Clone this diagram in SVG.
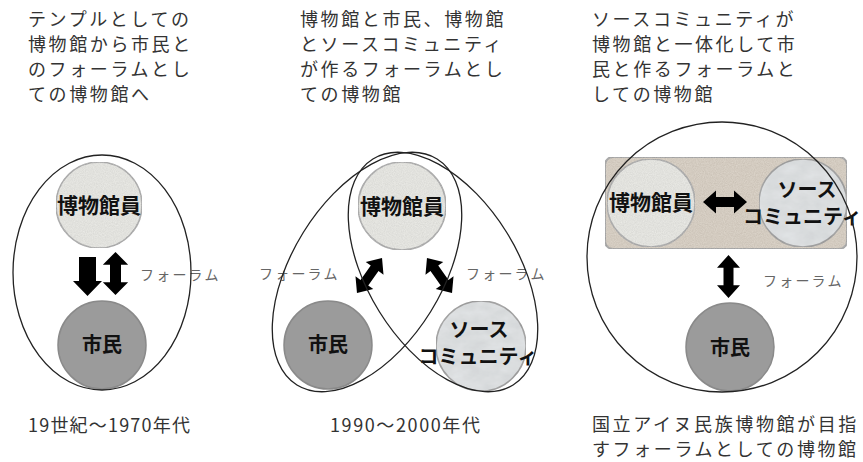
<svg xmlns="http://www.w3.org/2000/svg" width="863" height="462" viewBox="0 0 863 462">
<style>
.t{font-family:"Noto Sans CJK JP","Noto Sans",sans-serif;font-size:18px;fill:#333;letter-spacing:2.6px}
.lab{font-family:"Noto Sans CJK JP","Noto Sans",sans-serif;font-size:14px;fill:#666;letter-spacing:2.2px}
.nt{font-family:"Noto Sans CJK JP","Noto Sans",sans-serif;font-weight:bold;fill:#111;text-anchor:middle}
.staff{fill:#ebebe6;stroke:#a8a8a8;stroke-width:1.5}
.cit{fill:#9b9b9b;stroke:#8a8a8a;stroke-width:1.5}
.src{fill:#e0e3e5;stroke:#9a9a9a;stroke-width:1.5}
.ring{fill:none;stroke:#222;stroke-width:1.3}
.arr{fill:#000}
</style>
<defs>
<filter id="grain" x="0" y="0" width="100%" height="100%">
<feTurbulence type="fractalNoise" baseFrequency="0.9" numOctaves="2" seed="4" result="n"/>
<feColorMatrix in="n" type="saturate" values="0" result="g"/>
<feComponentTransfer in="g" result="g2"><feFuncA type="linear" slope="0" intercept="0.22"/></feComponentTransfer>
<feComposite in="g2" in2="SourceGraphic" operator="in" result="tex"/>
<feMerge><feMergeNode in="SourceGraphic"/><feMergeNode in="tex"/></feMerge>
</filter>
<filter id="marble" x="0" y="0" width="100%" height="100%">
<feTurbulence type="fractalNoise" baseFrequency="0.06 0.1" numOctaves="4" seed="7" result="n"/>
<feColorMatrix in="n" type="saturate" values="0" result="g"/>
<feComponentTransfer in="g" result="g2"><feFuncA type="linear" slope="0" intercept="0.18"/></feComponentTransfer>
<feComposite in="g2" in2="SourceGraphic" operator="in" result="tex"/>
<feMerge><feMergeNode in="SourceGraphic"/><feMergeNode in="tex"/></feMerge>
</filter>
<path id="dbl" d="M-22 0 L-9 -11.5 L-9 -5 L9 -5 L9 -11.5 L22 0 L9 11.5 L9 5 L-9 5 L-9 11.5 Z"/>
</defs>

<g id="titles">
<text class="t" x="28" y="26">テンプルとしての</text>
<text class="t" x="28" y="51">博物館から市民と</text>
<text class="t" x="28" y="76">のフォーラムとし</text>
<text class="t" x="28" y="101">ての博物館へ</text>
<text class="t" x="300" y="26">博物館と市民、博物館</text>
<text class="t" x="300" y="51">とソースコミュニティ</text>
<text class="t" x="300" y="76">が作るフォーラムとし</text>
<text class="t" x="300" y="101">ての博物館</text>
<text class="t" x="592" y="26">ソースコミュニティが</text>
<text class="t" x="592" y="51">博物館と一体化して市</text>
<text class="t" x="592" y="76">民と作るフォーラムと</text>
<text class="t" x="592" y="101">しての博物館</text>
</g>

<g id="captions">
<text class="t" x="28" y="432" style="letter-spacing:1.2px">19世紀〜1970年代</text>
<text class="t" x="330" y="432" style="letter-spacing:1.6px">1990〜2000年代</text>
<text class="t" x="592" y="431">国立アイヌ民族博物館が目指</text>
<text class="t" x="592" y="456">すフォーラムとしての博物館</text>
</g>

<!-- Panel 1 -->
<g id="p1-staff">
<circle class="staff" cx="99" cy="205" r="43" filter="url(#grain)"/>
<text class="nt" x="99" y="213" font-size="21">博物館員</text>
</g>
<g id="p1-citizen">
<circle class="cit" cx="102" cy="345" r="44"/>
<text class="nt" x="102" y="352" font-size="20" fill="#222">市民</text>
</g>

<!-- Panel 2 -->
<g id="p2-staff">
<circle class="staff" cx="402" cy="206" r="44" filter="url(#grain)"/>
<text class="nt" x="402" y="214" font-size="21">博物館員</text>
</g>
<g id="p2-citizen">
<circle class="cit" cx="328" cy="345" r="44"/>
<text class="nt" x="328" y="352" font-size="20">市民</text>
</g>
<g id="p2-source">
<circle class="src" cx="481" cy="346" r="45" filter="url(#marble)"/>
<text class="nt" x="479" y="337" font-size="20">ソース</text>
<text class="nt" x="478" y="364" font-size="20">コミュニティ</text>
</g>

<!-- Panel 3 -->
<g id="p3-group">
<rect x="605" y="157" width="242" height="92" rx="8" fill="#d9cfc1" stroke="#a3a3a3" stroke-width="2" filter="url(#grain)"/>
</g>
<g id="p3-staff">
<circle class="staff" cx="651" cy="203" r="44" filter="url(#grain)"/>
<text class="nt" x="651" y="210" font-size="21">博物館員</text>
</g>
<g id="p3-source">
<circle class="src" cx="803" cy="203" r="44" filter="url(#marble)"/>
<text class="nt" x="807" y="197" font-size="20">ソース</text>
<text class="nt" x="743" y="224" font-size="20" style="text-anchor:start">コミュニティ</text>
</g>
<g id="p3-citizen">
<circle class="cit" cx="730" cy="347" r="44"/>
<text class="nt" x="730" y="355" font-size="20">市民</text>
</g>

<g id="connectors">
<polygon class="arr" points="79,257 96,257 96,281 102,281 87.5,296 73,281 79,281"/>
<use href="#dbl" class="arr" transform="translate(115.5 273.5) rotate(90) scale(0.98 1.1)"/>
<use href="#dbl" class="arr" transform="translate(369.5 275.5) rotate(125.5) scale(0.98 0.95)"/>
<use href="#dbl" class="arr" transform="translate(439.5 275.5) rotate(54.5) scale(0.98 0.95)"/>
<use href="#dbl" class="arr" transform="translate(725 202)"/>
<use href="#dbl" class="arr" transform="translate(728.5 276.5) rotate(90) scale(0.98 1)"/>
</g>

<g id="labels">
<text class="lab" x="140" y="280">フォーラム</text>
<text class="lab" x="259" y="279">フォーラム</text>
<text class="lab" x="466" y="279">フォーラム</text>
<text class="lab" x="763" y="286">フォーラム</text>
</g>

<g id="forums">
<ellipse class="ring" cx="102" cy="272.5" rx="89" ry="117.5"/>
<ellipse class="ring" rx="75" ry="133" transform="translate(367 272) rotate(31.8)"/>
<ellipse class="ring" rx="75" ry="133" transform="translate(443 272) rotate(-31.8)"/>
<circle class="ring" cx="722" cy="257" r="135"/>
</g>
</svg>
